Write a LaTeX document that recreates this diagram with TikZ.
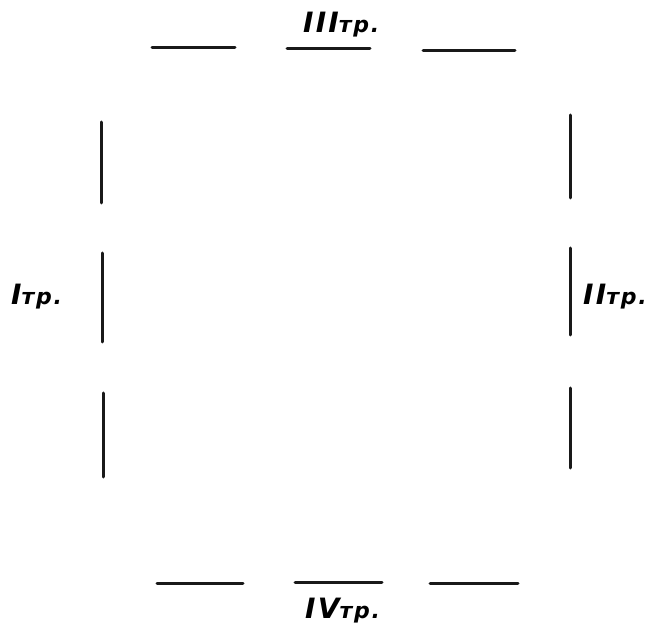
\documentclass[tikz,border=0pt]{standalone}
\usepackage{fontspec}
\setmainfont{Liberation Sans}
\newfontfamily\handfont[LetterSpace=8]{DejaVu Sans}
\begin{document}
\begin{tikzpicture}[x=1pt,y=-1pt,
  pipe/.style={line width=3pt,line cap=round,black!90},
  lbl/.style={inner sep=0pt,anchor=base west,font=\handfont\bfseries\slshape}]
\useasboundingbox (0,0) rectangle (651,628);
% top
\draw[pipe] (152,48) -- (235,48);
\draw[pipe] (287,49) -- (370,49);
\draw[pipe] (423,51) -- (515,51);
% bottom
\draw[pipe] (157,583) -- (243,583);
\draw[pipe] (295,582) -- (382,582);
\draw[pipe] (430,583) -- (518,583);
% left
\draw[pipe] (101,122) -- (101,203);
\draw[pipe] (102,253) -- (102,342);
\draw[pipe] (103,393) -- (103,477);
% right
\draw[pipe] (570,115) -- (570,198);
\draw[pipe] (570,248) -- (570,335);
\draw[pipe] (570,388) -- (570,468);
% labels
\node[lbl] (t3) at (303,33) {\fontsize{28}{28}\selectfont III\fontsize{22}{22}\selectfont тр.};
\node[lbl] (t1) at (11,305) {\fontsize{28}{28}\selectfont I\fontsize{22}{22}\selectfont тр.};
\node[lbl] (t2) at (583,305) {\fontsize{28}{28}\selectfont II\fontsize{22}{22}\selectfont тр.};
\node[lbl] (t4) at (305,618) {\fontsize{28}{28}\selectfont IV\fontsize{22}{22}\selectfont тр.};
\end{tikzpicture}
\end{document}
